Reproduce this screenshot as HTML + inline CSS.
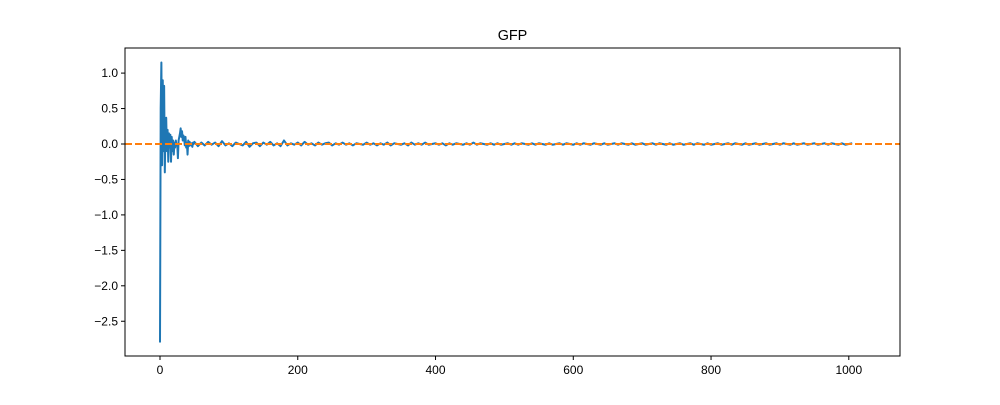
<!DOCTYPE html>
<html><head><meta charset="utf-8"><style>
body{margin:0;background:#fff}
svg text{font-family:"Liberation Sans","DejaVu Sans",sans-serif;font-size:12px;fill:#000}
</style></head><body>
<svg id="chart" width="1000" height="400">
<rect x="0" y="0" width="1000" height="400" fill="#fff"/>
<text x="512.5" y="40" text-anchor="middle" style="font-size:14.4px">GFP</text>
<g id="plot"></g>
<g id="axes"></g>
</svg>
<script>
const headX = [];
const headY = [-2.8,0.5,1.15,-0.3,0.9,-0.1,0.82,-0.4,0.3,0.37,-0.1,0.2,-0.25,0.15,-0.05,0.13,-0.25,0.1,-0.1,0.05,-0.15,0.02,-0.05,0.05,-0.02,0.0,-0.2,0.05,0.1,0.15,0.22,0.1,0.18,0.05,0.12,0.08,-0.02,0.1,-0.05,0.02,-0.15,0.05,-0.03,0.03,0.0,-0.02,0.01,-0.04,0.02,0.0];
const tailY = [0.03,-0.03,0.02,-0.02,0.03,-0.01,0.02,-0.03,0.04,-0.02,0.01,-0.03,0.02,0.0,-0.02,0.03,-0.04,0.01,0.02,-0.03,0.02,-0.01,0.03,-0.02,0.01,-0.03,0.05,-0.02,0.01,-0.01,0.02,-0.02,0.03,-0.01,0.01,-0.02,0.02,-0.01,0.01,0.02,-0.02,0.01,-0.01,0.02,-0.01,0.01,-0.02,0.01,0.0,-0.01,0.02,-0.01,0.01,-0.02,0.01,-0.01,0.02,-0.02,0.01,0.0,-0.01,0.01,-0.02,0.02,-0.01,0.01,-0.01,0.02,-0.01,0.0,0.01,-0.01,0.01,-0.02,0.01,-0.01,0.01,0.0,-0.01,0.01,-0.01,0.02,-0.01,0.01,0.0,-0.01,0.01,-0.01,0.01,-0.01,0.0,0.01,-0.01,0.01,-0.01,0.01,0.0,-0.01,0.01,-0.01,0.01,0.0,-0.01,0.01,-0.01,0.0,0.01,-0.01,0.01,0.0,-0.01,0.01,-0.01,0.01,0.0,-0.01,0.01,0.0,-0.01,0.01,-0.01,0.0,0.01,-0.01,0.01,0.0,-0.01,0.01,-0.01,0.0,0.01,-0.01,0.0,0.01,-0.01,0.01,0.0,-0.01,0.01,-0.01,0.0,0.01,-0.01,0.0,0.01,-0.01,0.01,0.0,-0.01,0.01,-0.01,0.0,0.01,-0.01,0.0,0.01,-0.01,0.01,0.0,-0.01,0.01,-0.01,0.0,0.01,-0.01,0.0,0.01,-0.01,0.0,0.01,-0.01,0.01,0.0,-0.01,0.01,-0.01,0.0,0.01,-0.01,0.0,0.01,-0.01,0.0,0.01,-0.01,0.01,0.0,-0.01,0.01,-0.01,0.0,0.01];
const tailStart = 50, tailStep = 5;
const xTicks = [0,200,400,600,800,1000];
const yTicks = [1.0,0.5,0.0,-0.5,-1.0,-1.5,-2.0,-2.5];
const baseline = 0.0;

const L=125,R=900,T=48,B=356;
const xs = v => 160 + v*0.6888;
const ys = v => 144 - v*70.9;
const NS="http://www.w3.org/2000/svg";
const plot=document.getElementById('plot'), axes=document.getElementById('axes');
function mk(tag,attrs,parent){const e=document.createElementNS(NS,tag);for(const k in attrs)e.setAttribute(k,attrs[k]);parent.appendChild(e);return e;}

const pts=[];
headY.forEach((v,i)=>pts.push([i,v]));
tailY.forEach((v,i)=>pts.push([tailStart+i*tailStep,v]));
const line=mk('polyline',{points:pts.map(p=>xs(p[0]).toFixed(2)+','+ys(p[1]).toFixed(2)).join(' '),fill:'none',stroke:'#1f77b4','stroke-width':2,'stroke-linejoin':'round'},plot);


const bl=mk('line',{x1:L,x2:R,y1:ys(baseline),y2:ys(baseline),stroke:'#ff7f0e','stroke-width':2,'stroke-dasharray':'7,3'},plot);



const frame=mk('rect',{x:L,y:T,width:R-L,height:B-T,fill:'none',stroke:'#000','stroke-width':1},axes);


xTicks.forEach(t=>{
  const x=xs(t);
  mk('line',{x1:x,x2:x,y1:B,y2:B+4,stroke:'#000'},axes);
  const tx=mk('text',{x:x,y:B+18,'text-anchor':'middle'},axes);
  tx.textContent=String(t);
  
  
});
yTicks.forEach(t=>{
  const y=ys(t);
  mk('line',{x1:L-4,x2:L,y1:y,y2:y,stroke:'#000'},axes);
  const tx=mk('text',{x:L-7,y:y+4,'text-anchor':'end'},axes);
  tx.textContent=(t<0?'\u2212':'')+Math.abs(t).toFixed(1);
  
  
});
</script>
</body></html>
